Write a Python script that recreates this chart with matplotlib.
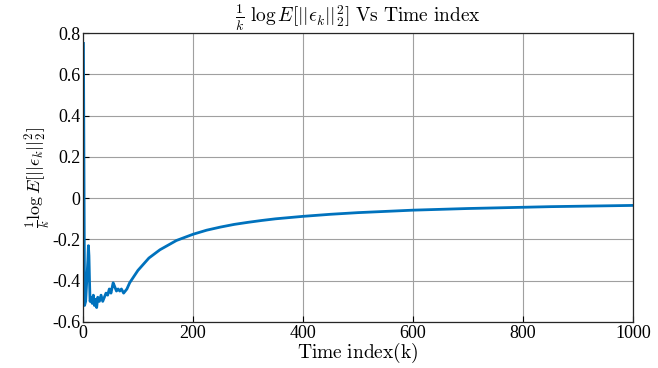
import matplotlib
matplotlib.use("Agg")
import matplotlib.pyplot as plt

plt.rcParams['mathtext.fontset'] = 'cm'
plt.rcParams['font.family'] = ['Liberation Serif', 'DejaVu Serif']

# values
k = [1, 2, 3, 5, 7, 9, 10, 11, 12, 13, 15, 17, 19, 21, 23, 25, 27, 30, 33, 36,
     39, 42, 45, 48, 51, 55, 58, 61, 64, 67, 70, 74, 80, 85, 90, 95, 100, 110,
     120, 130, 140, 150, 160, 170, 180, 190, 200, 225, 250, 275, 300, 325, 350,
     375, 400, 450, 500, 550, 600, 650, 700, 750, 800, 850, 900, 950, 1000]
err = [0.75, 0.1, -0.52, -0.50, -0.40, -0.30, -0.23, -0.28, -0.40, -0.50, -0.48,
       -0.51, -0.47, -0.52, -0.49, -0.53, -0.48, -0.50, -0.47, -0.50, -0.48,
       -0.46, -0.47, -0.44, -0.46, -0.41, -0.43, -0.45, -0.44, -0.45, -0.44,
       -0.46, -0.44, -0.41, -0.39, -0.37, -0.35, -0.32, -0.29, -0.27, -0.25,
       -0.235, -0.22, -0.205, -0.195, -0.185, -0.175, -0.155, -0.14, -0.127,
       -0.117, -0.108, -0.10, -0.094, -0.088, -0.078, -0.07, -0.064, -0.058,
       -0.054, -0.05, -0.047, -0.044, -0.041, -0.039, -0.037, -0.035]

xticks = [0, 200, 400, 600, 800, 1000]
yticks = [-0.6, -0.4, -0.2, 0, 0.2, 0.4, 0.6, 0.8]
ytick_labels = ['-0.6', '-0.4', '-0.2', '0', '0.2', '0.4', '0.6', '0.8']

fig = plt.figure(figsize=(6.58, 3.68), dpi=100)
ax = fig.add_axes([0.126, 0.125, 0.836, 0.785])

ax.plot(k, err, color='#0072BD', lw=2)

ax.set_xlim(0, 1000)
ax.set_ylim(-0.6, 0.8)
ax.set_xticks(xticks)
ax.set_xticklabels([str(x) for x in xticks])
ax.set_yticks(yticks)
ax.set_yticklabels(ytick_labels)
ax.tick_params(direction='in', labelsize=13, length=4, width=0.8, pad=2)
ax.grid(True, color='#a0a0a0', lw=0.8)
for s in ax.spines.values():
    s.set_linewidth(0.9)
    s.set_color('#262626')

ax.set_title(r'$\frac{1}{k}\ \log E[||\epsilon_k||_2^2]\ \mathrm{Vs\ Time\ index}$',
             fontsize=14, pad=4)
ax.set_xlabel(r'$\mathrm{Time\ index(k)}$', fontsize=14, labelpad=-1)
ax.set_ylabel(r'$\frac{1}{k}\log E[||\epsilon_k||_2^2]$', fontsize=13, labelpad=0)

fig.savefig('out.png', dpi=100)
